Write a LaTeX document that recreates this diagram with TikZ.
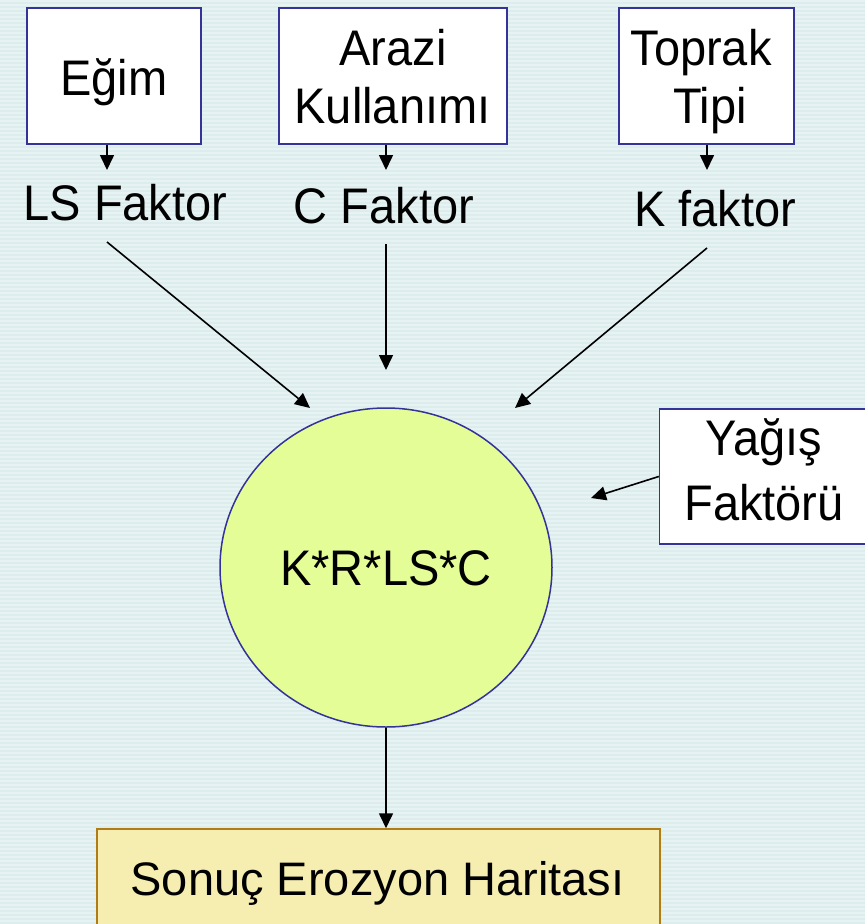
\documentclass[tikz,border=0pt]{standalone}
\usepackage{fontspec}
\setmainfont{Liberation Sans}
\newfontfamily\tallfont{Liberation Sans}[FakeStretch=0.94]
\usetikzlibrary{arrows.meta,shapes.geometric}
\definecolor{bgA}{RGB}{221,237,237}
\definecolor{bgB}{RGB}{231,243,243}
\definecolor{boxblue}{RGB}{51,51,153}
\definecolor{circfill}{RGB}{228,253,150}
\definecolor{resfill}{RGB}{245,238,176}
\definecolor{resdraw}{RGB}{176,124,24}
\begin{document}
\begin{tikzpicture}[x=1pt,y=-1pt,
  inbox/.style={draw=boxblue,fill=white,line width=1.5pt,inner sep=0pt},
  lbl/.style={anchor=base,inner sep=0pt,font=\tallfont\fontsize{50}{56}\selectfont},
  arr/.style={-{Triangle[length=15pt,width=14pt]},line width=1.6pt},
]
\useasboundingbox (0,0) rectangle (865,924);
\fill[bgA] (0,0) rectangle (865,924);
\foreach \y in {0,4,...,920} \fill[bgB] (0,\y) rectangle (865,\y+2);

% input boxes
\node[inbox,minimum width=174pt,minimum height=136pt] (egim) at (114,76) {};
\node[inbox,minimum width=228pt,minimum height=136pt] (arazi) at (393,76) {};
\node[inbox,minimum width=175pt,minimum height=136pt] (toprak) at (706.5,76) {};
\node[inbox,minimum width=225pt,minimum height=135pt] (yagis) at (772,476.5) {};
\node[draw=boxblue,fill=circfill,line width=1.5pt,ellipse,inner sep=0pt,
      minimum width=332pt,minimum height=319pt] (krlsc) at (386,567.5) {};
\node[draw=resdraw,fill=resfill,line width=1.5pt,inner sep=0pt,
      minimum width=563pt,minimum height=116pt] (sonuc) at (378.5,887) {};

% texts
\node[lbl] (tegim) at (114,95) {Eğim};
\node[lbl] (tarazi1) at (393,65) {Arazi};
\node[lbl] (tarazi2) at (392.5,123) {Kullanımı};
\node[lbl] (ttoprak1) at (701,65) {Toprak};
\node[lbl] (ttoprak2) at (710,123) {Tipi};
\node[lbl] (ls) at (125.5,220) {LS Faktor};
\node[lbl] (cf) at (384,223) {C Faktor};
\node[lbl] (kf) at (715,226) {K faktor};
\node[lbl] (tkrlsc) at (386,585) {K*R*LS*C};
\node[lbl] (tyagis1) at (764,455) {Yağış};
\node[lbl] (tyagis2) at (764,520) {Faktörü};
\node[anchor=base,inner sep=0pt,font=\fontsize{47}{56}\selectfont] (tsonuc) at (377.5,895) {Sonuç Erozyon Haritası};

% coordinates
\coordinate (e1) at (107,170);
\coordinate (a1) at (386,170);
\coordinate (t1) at (707,170);
\coordinate (lsS) at (107,242);
\coordinate (lsE) at (310,408);
\coordinate (cS) at (386,244);
\coordinate (cE) at (386,370);
\coordinate (kS) at (707,248);
\coordinate (kE) at (515,408);
\coordinate (yE) at (591,498);

% connectors
\draw[arr] (e1 |- egim.south) -- (e1);
\draw[arr] (a1 |- arazi.south) -- (a1);
\draw[arr] (t1 |- toprak.south) -- (t1);
\draw[arr] (lsS) -- (lsE);
\draw[arr] (cS) -- (cE);
\draw[arr] (kS) -- (kE);
\draw[arr] (yagis.west) -- (yE);
\draw[arr] (krlsc.south) -- (krlsc.south |- sonuc.north);
\end{tikzpicture}
\end{document}
